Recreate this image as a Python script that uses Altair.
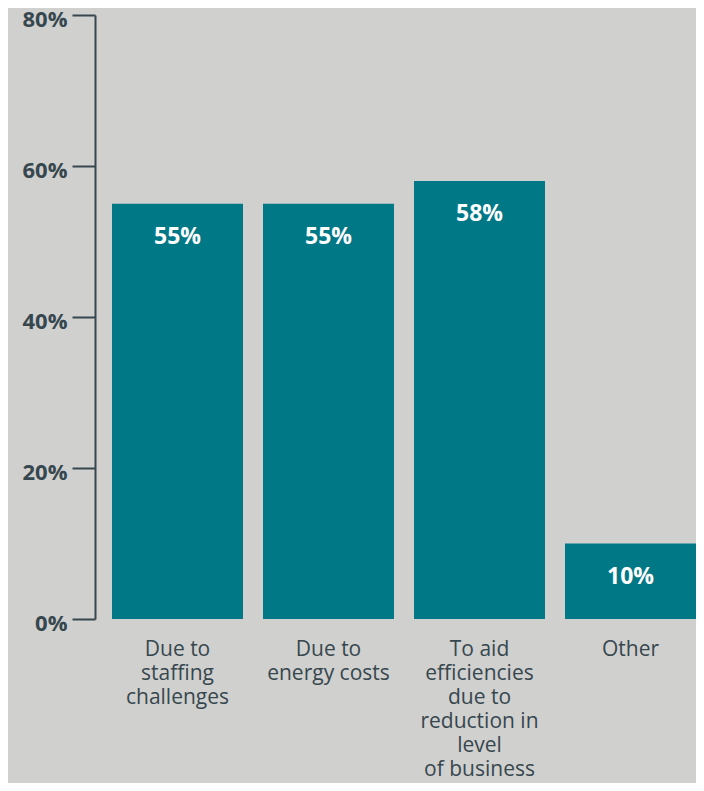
import altair as alt
import pandas as pd

categories = ["Due to\nstaffing\nchallenges", "Due to\nenergy costs",
              "To aid\nefficiencies\ndue to\nreduction in\nlevel\nof business", "Other"]
values = [55, 55, 58, 10]
y_ticks = [0, 20, 40, 60, 80]

df = pd.DataFrame({"cat": categories, "val": values})

BG = "#d0d0ce"
TEAL = "#007886"
INK = "#37474f"
FONT = "Open Sans"

x = alt.X("cat:N", sort=categories, title=None,
          scale=alt.Scale(paddingInner=0.1325, paddingOuter=0.0563, align=1),
          axis=alt.Axis(labelAngle=0, domain=False, ticks=False,
                        labelExpr="split(datum.label, '\\n')",
                        labelFont=FONT, labelFontSize=21, labelColor=INK,
                        labelLineHeight=24, labelBaseline="top", labelPadding=19,
                        labelAlign="center"))
y = alt.Y("val:Q", title=None,
          scale=alt.Scale(domain=[0, 80], nice=False),
          axis=alt.Axis(values=y_ticks, labelExpr="datum.value + '%'",
                        grid=False, domainColor=INK, domainWidth=2,
                        tickColor=INK, tickWidth=2, tickSize=23,
                        labelFont=FONT, labelFontSize=22, labelFontWeight="bold",
                        labelColor=INK, labelPadding=5, labelOffset=4))

bars = alt.Chart(df).mark_bar(color=TEAL).encode(x=x, y=y)
text = alt.Chart(df).transform_calculate(lbl="datum.val + '%'").mark_text(
    color="white", font=FONT, fontSize=23, fontWeight="bold",
    baseline="middle", dy=33).encode(
    x=alt.X("cat:N", sort=categories), y="val:Q", text="lbl:N")

chart = (bars + text).properties(
    width=601, height=604,
    autosize=alt.AutoSizeParams(type="none"),
    padding={"left": 87, "top": 7, "right": 0, "bottom": 164},
    background=BG,
).configure_view(stroke=None)

chart.save("out.html", embed_options={"renderer": "svg", "actions": False})
